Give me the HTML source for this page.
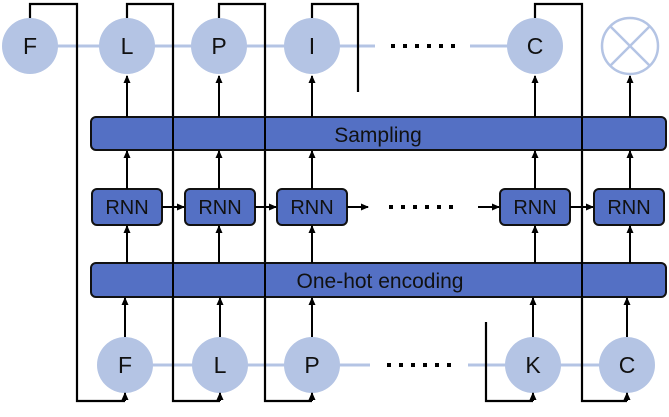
<!DOCTYPE html>
<html><head><style>body{margin:0;background:#fff}</style></head><body>
<svg width="669" height="412" viewBox="0 0 669 412" xmlns="http://www.w3.org/2000/svg" font-family="Liberation Sans, sans-serif">
<defs><marker id="a" markerWidth="8" markerHeight="8" refX="7" refY="4" orient="auto" markerUnits="userSpaceOnUse"><path d="M0,0.5 L8,4 L0,7.5z" fill="#000"/></marker>
<g id="d" fill="#000"><rect x="0" y="0" width="4" height="4"/><rect x="12" y="0" width="4" height="4"/><rect x="24" y="0" width="4" height="4"/><rect x="36" y="0" width="4" height="4"/><rect x="48" y="0" width="4" height="4"/><rect x="60" y="0" width="4" height="4"/></g>
</defs>
<g stroke="#b4c4e4" stroke-width="3">
<line x1="30" y1="46" x2="312" y2="46"/><line x1="312" y1="46" x2="375" y2="46"/><line x1="470" y1="46" x2="535" y2="46"/>
<line x1="125" y1="365" x2="312" y2="365"/><line x1="312" y1="365" x2="370" y2="365"/><line x1="468" y1="365" x2="627" y2="365"/>
</g>
<g fill="#b4c4e4">
<circle cx="30" cy="46" r="28"/><circle cx="127" cy="46" r="28"/><circle cx="219" cy="46" r="28"/><circle cx="312" cy="46" r="28"/><circle cx="535" cy="46" r="28"/>
<circle cx="125" cy="365" r="28"/><circle cx="220" cy="365" r="28"/><circle cx="312" cy="365" r="28"/><circle cx="533" cy="365" r="28"/><circle cx="627" cy="365" r="28"/>
</g>
<circle cx="630" cy="46" r="28" fill="#fff" stroke="#b4c4e4" stroke-width="2.5"/>
<g stroke="#b4c4e4" stroke-width="2.5"><line x1="610" y1="26" x2="650" y2="66"/><line x1="650" y1="26" x2="610" y2="66"/></g>
<g fill="none" stroke="#000" stroke-width="2.2">
<polyline points="30,18 30,4 77,4 77,401 125,401"/>
<polyline points="127,18 127,4 173,4 173,401 220,401"/>
<polyline points="219,18 219,4 265,4 265,401 312,401"/>
<polyline points="312,18 312,4 358,4 358,92"/>
<polyline points="486,322 486,401 533,401"/>
<polyline points="535,18 535,4 582,4 582,401 627,401"/>
</g>
<g fill="#5470c4" stroke="#111" stroke-width="2">
<rect x="91" y="117" width="575" height="33" rx="5"/>
<rect x="91" y="263" width="575" height="34" rx="5"/>
<rect x="92" y="189" width="70" height="36" rx="5"/><rect x="185" y="189" width="70" height="36" rx="5"/><rect x="277" y="189" width="70" height="36" rx="5"/><rect x="500" y="189" width="70" height="36" rx="5"/><rect x="594" y="189" width="70" height="36" rx="5"/>
</g>
<g stroke="#000" stroke-width="2"><line x1="173" y1="117" x2="173" y2="150"/><line x1="265" y1="117" x2="265" y2="150"/><line x1="582" y1="117" x2="582" y2="150"/>
<line x1="173" y1="263" x2="173" y2="297"/><line x1="265" y1="263" x2="265" y2="297"/><line x1="77" y1="263" x2="77" y2="297"/><line x1="582" y1="263" x2="582" y2="297"/><line x1="173" y1="225" x2="173" y2="263"/><line x1="582" y1="225" x2="582" y2="263"/></g>
<g stroke="#000" stroke-width="2" marker-end="url(#a)">
<line x1="127" y1="117" x2="127" y2="76"/><line x1="219" y1="117" x2="219" y2="76"/><line x1="312" y1="117" x2="312" y2="76"/><line x1="535" y1="117" x2="535" y2="76"/><line x1="630" y1="117" x2="630" y2="76"/>
<line x1="127" y1="189" x2="127" y2="151"/><line x1="219" y1="189" x2="219" y2="151"/><line x1="312" y1="189" x2="312" y2="151"/><line x1="535" y1="189" x2="535" y2="151"/><line x1="630" y1="189" x2="630" y2="151"/>
<line x1="127" y1="263" x2="127" y2="226"/><line x1="219" y1="263" x2="219" y2="226"/><line x1="312" y1="263" x2="312" y2="226"/><line x1="535" y1="263" x2="535" y2="226"/><line x1="630" y1="263" x2="630" y2="226"/>
<line x1="125" y1="337" x2="125" y2="298"/><line x1="220" y1="337" x2="220" y2="298"/><line x1="312" y1="337" x2="312" y2="298"/><line x1="533" y1="337" x2="533" y2="298"/><line x1="627" y1="337" x2="627" y2="298"/>
<line x1="125" y1="401" x2="125" y2="393"/><line x1="220" y1="401" x2="220" y2="393"/><line x1="312" y1="401" x2="312" y2="393"/><line x1="533" y1="401" x2="533" y2="393"/><line x1="627" y1="401" x2="627" y2="393"/>
<line x1="162" y1="207" x2="184" y2="207"/><line x1="255" y1="207" x2="276" y2="207"/><line x1="347" y1="207" x2="368" y2="207"/><line x1="478" y1="207" x2="499" y2="207"/><line x1="570" y1="207" x2="593" y2="207"/>
</g>
<g font-size="23" fill="#111" text-anchor="middle">
<text x="30" y="54">F</text><text x="127" y="54">L</text><text x="219" y="54">P</text><text x="312" y="54">I</text><text x="535" y="54">C</text>
<text x="125" y="373">F</text><text x="220" y="373">L</text><text x="312" y="373">P</text><text x="533" y="373">K</text><text x="627" y="373">C</text>
<text x="378" y="142" font-size="21">Sampling</text>
<text x="380" y="288" font-size="21">One-hot encoding</text>
</g>
<g font-size="20" fill="#111" text-anchor="middle">
<text x="127" y="214">RNN</text><text x="220" y="214">RNN</text><text x="312" y="214">RNN</text><text x="535" y="214">RNN</text><text x="629" y="214">RNN</text>
</g>
<use href="#d" x="391" y="44"/><use href="#d" x="389" y="205"/><use href="#d" x="387" y="363"/>
</svg>
</body></html>
